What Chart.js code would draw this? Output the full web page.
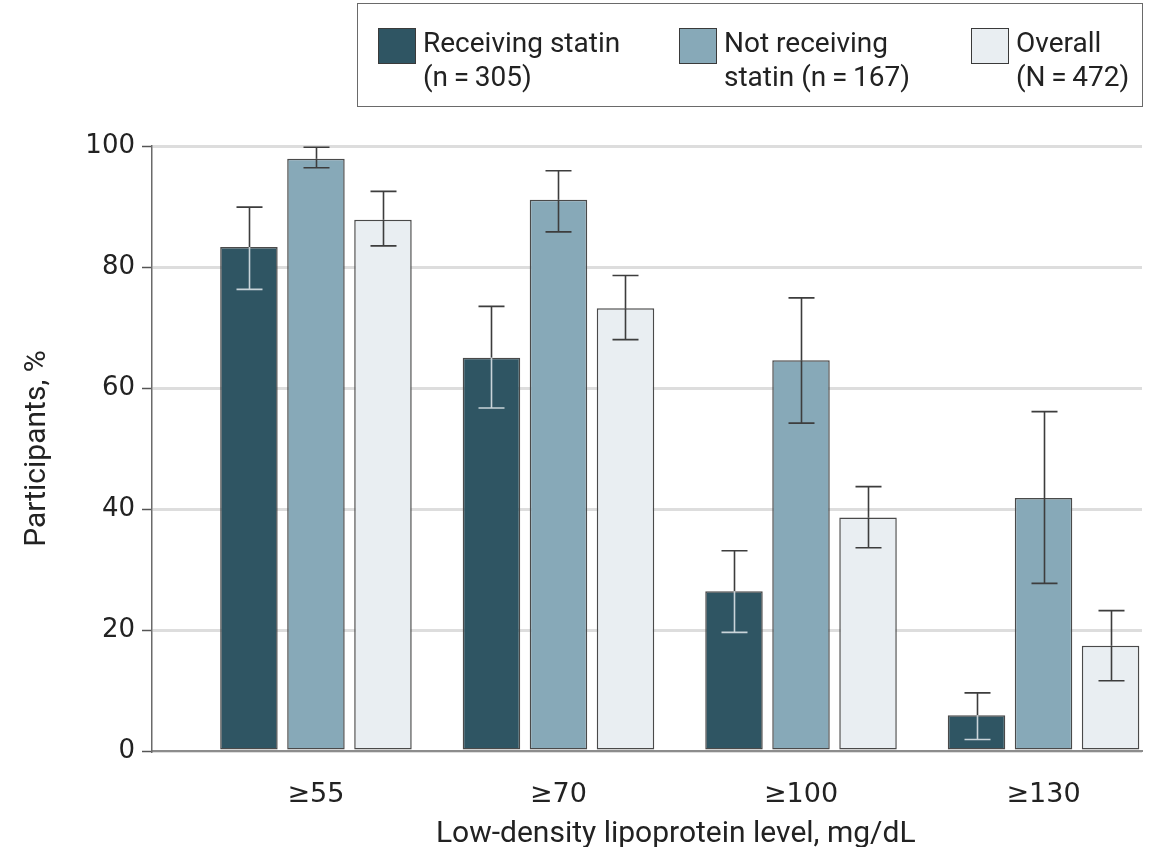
<!DOCTYPE html>
<html>
<head>
<meta charset="utf-8">
<script src="https://cdn.jsdelivr.net/npm/chart.js@4.4.1/dist/chart.umd.min.js"></script>
<style>
  html, body { margin: 0; padding: 0; background: #fff; }
  #wrap { position: relative; width: 1150px; height: 847px; }
  #chart { position: absolute; left: 0; top: 0; }
  #legend {
    position: absolute; left: 357px; top: 3px; width: 784px; height: 102px;
    border: 1.5px solid #6a6a6a; box-sizing: content-box;
    font-family: "Roboto", sans-serif;
    font-size: 28px; color: #222;
  }
  .item { position: absolute; top: 22px; }
  .swatch { position: absolute; top: 2px; left: 0; width: 36px; height: 34px; border: 1px solid #3a3a3a; }
  .label { position: absolute; left: 45px; top: 0; line-height: 34px; white-space: nowrap; }
</style>
</head>
<body>
<div id="wrap">
  <canvas id="chart" width="1150" height="847"></canvas>
  <div id="legend"></div>
</div>
<script>
// LDL thresholds (mg/dL) and share of participants at or above each one
const categories = ['≥55', '≥70', '≥100', '≥130'];

const receiving   = [83.3, 65.0, 26.4, 5.9];
const receivingLo = [76.3, 56.7, 19.6, 1.9];
const receivingHi = [89.9, 73.5, 33.1, 9.6];

const notReceiving   = [97.9, 91.1, 64.6, 41.8];
const notReceivingLo = [96.4, 85.8, 54.2, 27.7];
const notReceivingHi = [99.8, 95.9, 74.9, 56.1];

const overall   = [87.8, 73.2, 38.6, 17.4];
const overallLo = [83.5, 68.0, 33.6, 11.6];
const overallHi = [92.5, 78.6, 43.7, 23.2];

const seriesNames = [
  ['Receiving statin', '(n\u2009=\u2009305)'],
  ['Not receiving', 'statin (n\u2009=\u2009167)'],
  ['Overall', '(N\u2009=\u2009472)']
];
const seriesColors = ['#2f5563', '#87a9b8', '#e9eef2'];
const yTicks = [0, 20, 40, 60, 80, 100];
const xTitle = 'Low-density lipoprotein level, mg/dL';
const yTitle = 'Participants, %';

const titleFont = "'Roboto', sans-serif";
const tickFont = "'DejaVu Sans', sans-serif";

const series = [
  { name: seriesNames[0], values: receiving, lo: receivingLo, hi: receivingHi, color: seriesColors[0] },
  { name: seriesNames[1], values: notReceiving, lo: notReceivingLo, hi: notReceivingHi, color: seriesColors[1] },
  { name: seriesNames[2], values: overall, lo: overallLo, hi: overallHi, color: seriesColors[2] }
];

// Confidence-interval whiskers drawn on top of each bar
const errorBars = {
  id: 'errorBars',
  afterDatasetsDraw(chart) {
    const ctx = chart.ctx;
    const y = chart.scales.y;
    chart.data.datasets.forEach((ds, di) => {
      const meta = chart.getDatasetMeta(di);
      meta.data.forEach((bar, i) => {
        const x = Math.round(bar.x) + 0.5;
        const yHi = y.getPixelForValue(ds.errHi[i]);
        const yLo = y.getPixelForValue(ds.errLo[i]);
        const yTop = bar.y;
        const cap = 13;
        ctx.save();
        ctx.lineWidth = 1.6;
        // part above the bar
        ctx.strokeStyle = '#3d3d3d';
        ctx.beginPath();
        ctx.moveTo(x, yHi); ctx.lineTo(x, Math.min(yTop, yLo));
        ctx.moveTo(x - cap, yHi); ctx.lineTo(x + cap, yHi);
        ctx.stroke();
        // part inside the bar
        ctx.strokeStyle = ds.whiskerInside;
        ctx.beginPath();
        ctx.moveTo(x, Math.max(yTop, yHi)); ctx.lineTo(x, yLo);
        ctx.moveTo(x - cap, yLo); ctx.lineTo(x + cap, yLo);
        ctx.stroke();
        ctx.restore();
      });
    });
  }
};

// x-axis title centred under the span of the category groups
const groupTitle = {
  id: 'groupTitle',
  afterDraw(chart) {
    const xs = chart.scales.x;
    const ctx = chart.ctx;
    const cx = (xs.getPixelForValue(0) + xs.getPixelForValue(categories.length - 1)) / 2 - 4;
    ctx.save();
    ctx.font = "30px " + titleFont;
    ctx.fillStyle = '#222';
    ctx.textAlign = 'center';
    ctx.textBaseline = 'alphabetic';
    ctx.fillText(xTitle, cx, xs.bottom - 5);
    ctx.restore();
  }
};

const datasets = series.map((s, si) => ({
  label: s.name.join(' '),
  data: s.values.map((v, i) => ({ x: i, y: v })),
  errLo: s.lo,
  errHi: s.hi,
  backgroundColor: s.color,
  borderColor: '#4a4a4a',
  borderWidth: 1.5,
  borderSkipped: false,
  barPercentage: 0.858,
  categoryPercentage: 0.829,
  whiskerInside: si === 0 ? '#c9d4d9' : '#3d3d3d'
}));

const chart = new Chart(document.getElementById('chart'), {
  type: 'bar',
  data: { datasets },
  plugins: [errorBars, groupTitle],
  options: {
    responsive: false,
    animation: false,
    layout: { padding: { top: 146, right: 8, left: 0, bottom: 0 } },
    plugins: { legend: { display: false }, tooltip: { enabled: false } },
    scales: {
      x: {
        type: 'linear',
        offset: false,
        min: -0.676,
        max: 3.406,
        bounds: 'data',
        afterBuildTicks: (scale) => { scale.ticks = categories.map((_, i) => ({ value: i })); },
        afterFit: (scale) => { scale.height = 96; },
        grid: { display: false, drawTicks: false },
        border: { display: true, color: '#8c8c8c', width: 2 },
        ticks: {
          autoSkip: false,
          maxRotation: 0,
          padding: 28,
          color: '#222',
          font: { family: tickFont, size: 27 },
          callback: (v) => categories[v]
        },
        title: { display: false }
      },
      y: {
        min: 0,
        max: 100,
        afterFit: (scale) => { scale.width = 152; },
        afterBuildTicks: (scale) => { scale.ticks = yTicks.map(v => ({ value: v })); },
        grid: { color: '#dddddd', lineWidth: 3, tickColor: '#555', tickLength: 10, tickWidth: 1.5 },
        border: { display: true, color: '#6a6a6a', width: 1.5 },
        ticks: {
          padding: 7,
          color: '#222',
          font: { family: tickFont, size: 26 }
        },
        title: {
          display: true,
          text: yTitle,
          color: '#222',
          font: { family: titleFont, size: 30, lineHeight: 1.2 },
          padding: { top: 19, bottom: 0 }
        }
      }
    }
  }
});

// HTML legend built from the chart's datasets
const legendEl = document.getElementById('legend');
const itemLeft = [20, 321, 613];
chart.data.datasets.forEach((ds, i) => {
  const item = document.createElement('div');
  item.className = 'item';
  item.style.left = itemLeft[i] + 'px';
  const sw = document.createElement('div');
  sw.className = 'swatch';
  sw.style.background = ds.backgroundColor;
  const lab = document.createElement('div');
  lab.className = 'label';
  lab.innerHTML = series[i].name.map(t => t.replace(/&/g, '&amp;')).join('<br>');
  item.appendChild(sw);
  item.appendChild(lab);
  legendEl.appendChild(item);
});
</script>
</body>
</html>
